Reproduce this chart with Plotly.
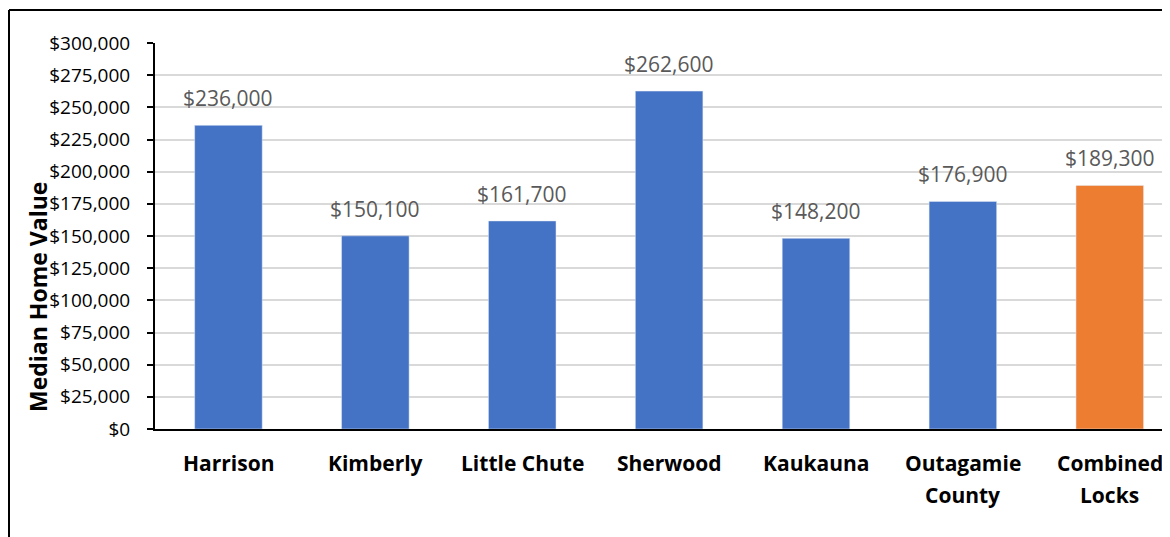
import plotly.graph_objects as go

categories = ["Harrison", "Kimberly", "Little Chute", "Sherwood", "Kaukauna", "Outagamie County", "Combined Locks"]
label_lines = [["Harrison"], ["Kimberly"], ["Little Chute"], ["Sherwood"], ["Kaukauna"], ["Outagamie", "County"], ["Combined", "Locks"]]
values = [236000, 150100, 161700, 262600, 148200, 176900, 189300]
colors = ["#4472C4"] * 6 + ["#ED7D31"]
y_ticks = list(range(0, 300001, 25000))
y_ticktext = ["$" + format(v, ",") for v in y_ticks]
y_title = "Median Home Value"

FONT = "Open Sans"
W, H = 1162, 529
L, T, B = 147, 35, 108

plot_w = W - L
plot_h = H - T - B

fig = go.Figure()
fig.add_trace(go.Bar(
    x=list(range(len(categories))), y=values, marker_color=colors, width=0.46,
    hoverinfo="skip", showlegend=False,
))

annotations = []
for i, v in enumerate(values):
    annotations.append(dict(x=i, y=v, xref="x", yref="y", text="$" + format(v, ","),
                            showarrow=False, yanchor="bottom", yshift=11,
                            font=dict(family=FONT, size=21, color="#595959")))
for i, lines in enumerate(label_lines):
    for j, line in enumerate(lines):
        annotations.append(dict(x=i, y=0, xref="x", yref="paper", text="<b>" + line + "</b>",
                                showarrow=False, yanchor="middle", yshift=-34 - 32 * j,
                                font=dict(family=FONT, size=21, color="#000000")))
annotations.append(dict(x=(30 - L) / plot_w, y=(T + plot_h - 289) / plot_h, xref="paper", yref="paper",
                        text="<b>" + y_title + "</b>", textangle=-90, showarrow=False,
                        xanchor="center", yanchor="middle",
                        font=dict(family=FONT, size=23, color="#000000")))

fx0 = (1 - L) / plot_w
fy1 = 1 + (T - 2) / plot_h
shapes = [
    dict(type="line", xref="paper", yref="paper", x0=fx0, x1=1.02, y0=fy1, y1=fy1,
         line=dict(color="#000000", width=2)),
    dict(type="line", xref="paper", yref="paper", x0=fx0, x1=fx0, y0=fy1, y1=-0.5,
         line=dict(color="#000000", width=2)),
]

fig.update_layout(
    width=W, height=H,
    margin=dict(l=L, r=0, t=T, b=B),
    paper_bgcolor="white", plot_bgcolor="white",
    font=dict(family=FONT, color="#000000"),
    annotations=annotations,
    shapes=shapes,
    xaxis=dict(range=[-0.5, 6.41], showticklabels=False, showgrid=False, zeroline=False,
               showline=True, linecolor="#000000", linewidth=2, ticks=""),
    yaxis=dict(range=[0, 300000], tickvals=y_ticks, ticktext=y_ticktext,
               showgrid=True, gridcolor="#D9D9D9", gridwidth=2, zeroline=False,
               showline=True, linecolor="#000000", linewidth=2,
               ticks="outside", ticklen=6, tickcolor="#000000", tickwidth=2,
               tickfont=dict(family=FONT, size=19, color="#000000"),
               ticklabelstandoff=13),
)

fig.write_html("out.html")
